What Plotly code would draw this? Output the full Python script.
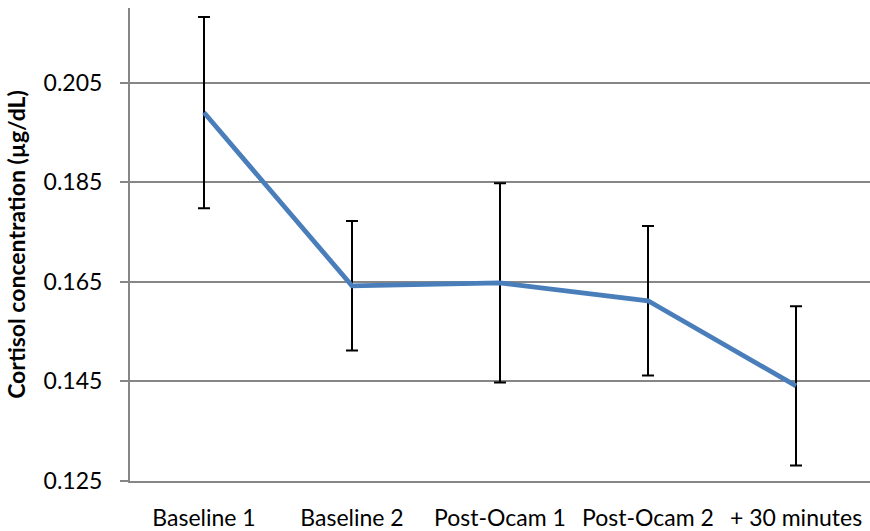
import plotly.graph_objects as go

categories = ["Baseline 1", "Baseline 2", "Post-Ocam 1", "Post-Ocam 2", "+ 30 minutes"]
cortisol_mean = [0.199, 0.1642, 0.1648, 0.1612, 0.1441]
cortisol_err = [0.0192, 0.013, 0.020, 0.015, 0.016]
y_ticks = [0.125, 0.145, 0.165, 0.185, 0.205]

FONT = "Lato"
FS = 23

fig = go.Figure()
fig.add_trace(go.Scatter(
    x=categories, y=cortisol_mean, mode="lines",
    line=dict(color="#4a7ebb", width=4.8),
    error_y=dict(type="data", array=cortisol_err, visible=True,
                 color="black", thickness=2, width=6),
    showlegend=False,
))

fig.update_layout(
    width=870, height=531,
    margin=dict(l=130, r=0, t=8, b=47),
    paper_bgcolor="white", plot_bgcolor="white",
    font=dict(family=FONT, size=FS, color="black"),
)
fig.update_xaxes(
    type="category", range=[-0.5, 4.5],
    showgrid=False, showline=True, linecolor="#868686", linewidth=2,
    ticks="", ticklabelstandoff=15,
    tickfont=dict(family=FONT, size=FS, color="black"),
)
fig.update_yaxes(
    range=[0.125, 0.22], tickvals=y_ticks,
    ticktext=[f"{v:.3f}" for v in y_ticks],
    showgrid=True, gridcolor="#868686", gridwidth=2,
    showline=True, linecolor="#868686", linewidth=2,
    ticks="outside", ticklen=8, tickcolor="#868686", tickwidth=2,
    ticklabelstandoff=13, zeroline=False,
    tickfont=dict(family=FONT, size=FS, color="black"),
    title=dict(text="<b>Cortisol concentration (µg/dL)</b>",
               font=dict(family=FONT, size=FS, color="black"), standoff=12),
)

fig.write_html("out.html")
